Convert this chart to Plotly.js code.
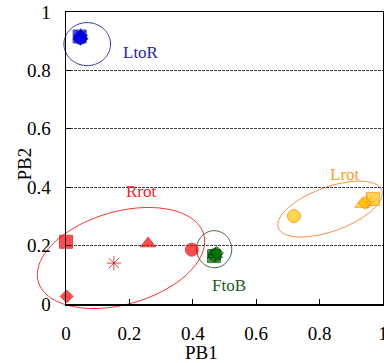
<!DOCTYPE html>
<html>
<head>
<meta charset="utf-8">
<script src="https://cdn.plot.ly/plotly-3.0.1.min.js"></script>
<style>html,body{margin:0;padding:0;background:#fff}#chart{width:384px;height:363px}</style>
</head>
<body>
<div id="chart"></div>
<script>
// Marker kinds shared by every group (one point per kind)
const symbols = ['square', 'triangle-up', 'circle', 'asterisk-open', 'diamond'];
const symbolSizes = [13, 13, 13, 12, 10];

// Group names
const groups = ['LtoR', 'Rrot', 'FtoB', 'Lrot'];

// PB1 / PB2 values per group (order follows `symbols`)
const ltorPB1 = [0.043, 0.046, 0.045, 0.047, 0.046];
const ltorPB2 = [0.916, 0.918, 0.912, 0.920, 0.908];
const rrotPB1 = [0.000, 0.259, 0.397, 0.151, 0.002];
const rrotPB2 = [0.213, 0.207, 0.186, 0.140, 0.026];
const ftobPB1 = [0.467, 0.470, 0.470, 0.471, 0.476];
const ftobPB2 = [0.164, 0.170, 0.168, 0.170, 0.175];
const lrotPB1 = [0.968, 0.934, 0.719, 0.950, 0.943];
const lrotPB2 = [0.360, 0.342, 0.301, 0.350, 0.346];

// Ellipse outlines: centre (data), semi-axes (px), tilt (deg)
const ellCx = [0.067, 0.1735, 0.4675, 0.833];
const ellCy = [0.890, 0.1575, 0.1877, 0.325];
const ellA = [23.3, 86, 17.5, 55];
const ellB = [21.5, 46.4, 18.5, 22];
const ellAngle = [0, 16, 0, 20];

// Group labels
const labelX = [0.237, 0.238, 0.514, 0.880];
const labelY = [0.863, 0.385, 0.065, 0.445];

// Tick labels
const tickVals = [0, 0.2, 0.4, 0.6, 0.8, 1];
const tickText = ['0', '0.2', '0.4', '0.6', '0.8', '1'];

const fillColors = ['#0000FF', '#FF0000', '#007A00', '#FFC400'];
const edgeColors = ['#0000A0', '#D00000', '#003A00', '#FF8000'];
const ellColors = ['#2B2BA8', '#FF3030', '#2E5E2E', '#FF8C3A'];
const textColors = ['#2424A8', '#FF2020', '#1E5A1E', '#FF9A30'];

const xs = [ltorPB1, rrotPB1, ftobPB1, lrotPB1];
const ys = [ltorPB2, rrotPB2, ftobPB2, lrotPB2];

const W = 384, H = 363;
const M = {l: 66, r: 1, t: 12, b: 59};
const pxX = W - M.l - M.r, pxY = H - M.t - M.b;

const font = 'Times New Roman, Liberation Serif, DejaVu Serif, serif';

const traces = groups.map((g, i) => ({
  type: 'scatter', mode: 'markers', name: g,
  x: xs[i], y: ys[i], cliponaxis: false, showlegend: false,
  marker: {
    symbol: symbols, size: symbolSizes,
    color: symbols.map(s => s.endsWith('open') ? edgeColors[i] : fillColors[i]),
    line: {color: edgeColors[i], width: 1}
  },
  hoverinfo: 'skip'
}));

function ellipsePath(i) {
  const th = ellAngle[i] * Math.PI / 180;
  const ux = ellA[i] * Math.cos(th) / pxX, uy = ellA[i] * Math.sin(th) / pxY;
  const vx = -ellB[i] * Math.sin(th) / pxX, vy = ellB[i] * Math.cos(th) / pxY;
  let d = '';
  const n = 120;
  for (let k = 0; k <= n; k++) {
    const t = 2 * Math.PI * k / n;
    const px = ellCx[i] + ux * Math.cos(t) + vx * Math.sin(t);
    const py = ellCy[i] + uy * Math.cos(t) + vy * Math.sin(t);
    d += (k === 0 ? 'M' : 'L') + px.toFixed(5) + ',' + py.toFixed(5);
  }
  return d + 'Z';
}

// axis ranges are [0,1] with full domains, so paper coords equal data coords
const shapes = groups.map((g, i) => ({
  type: 'path', xref: 'paper', yref: 'paper', path: ellipsePath(i),
  line: {color: ellColors[i], width: 1}, layer: 'below'
}));

const annotations = groups.map((g, i) => ({
  x: labelX[i], y: labelY[i], xref: 'x', yref: 'y', text: g, showarrow: false,
  xanchor: 'center', yanchor: 'middle',
  font: {family: font, size: 17, color: textColors[i]}
}));
annotations.push({
  x: (201 - M.l) / pxX, y: -(352 - M.t - pxY) / pxY, xref: 'paper', yref: 'paper',
  xanchor: 'center', yanchor: 'middle',
  text: 'PB1', showarrow: false, font: {family: font, size: 19, color: '#000'}
});
annotations.push({
  x: -(M.l - 23.5) / pxX, y: 1 - (164 - M.t) / pxY, xref: 'paper', yref: 'paper',
  xanchor: 'center', yanchor: 'middle',
  text: 'PB2', textangle: -90, showarrow: false, font: {family: font, size: 19, color: '#000'}
});

const axisBase = {
  range: [0, 1], tickvals: tickVals, ticktext: tickText,
  showline: true, linecolor: '#000', linewidth: 1.5, mirror: true,
  ticks: 'inside', ticklen: 5, tickcolor: '#000', tickwidth: 1,
  zeroline: false, automargin: false, ticklabeloverflow: 'allow',
  tickfont: {family: font, size: 19, color: '#000'}
};

const layout = {
  width: W, height: H, margin: M,
  font: {family: font},
  paper_bgcolor: '#fff', plot_bgcolor: '#fff',
  xaxis: Object.assign({}, axisBase, {showgrid: false, ticklabelstandoff: 12}),
  yaxis: Object.assign({}, axisBase, {showgrid: true, gridcolor: '#444', gridwidth: 1, griddash: '3px,1px', ticklabelstandoff: 10}),
  shapes: shapes, annotations: annotations, showlegend: false
};

Plotly.newPlot('chart', traces, layout, {staticPlot: true, displayModeBar: false});
</script>
</body>
</html>
